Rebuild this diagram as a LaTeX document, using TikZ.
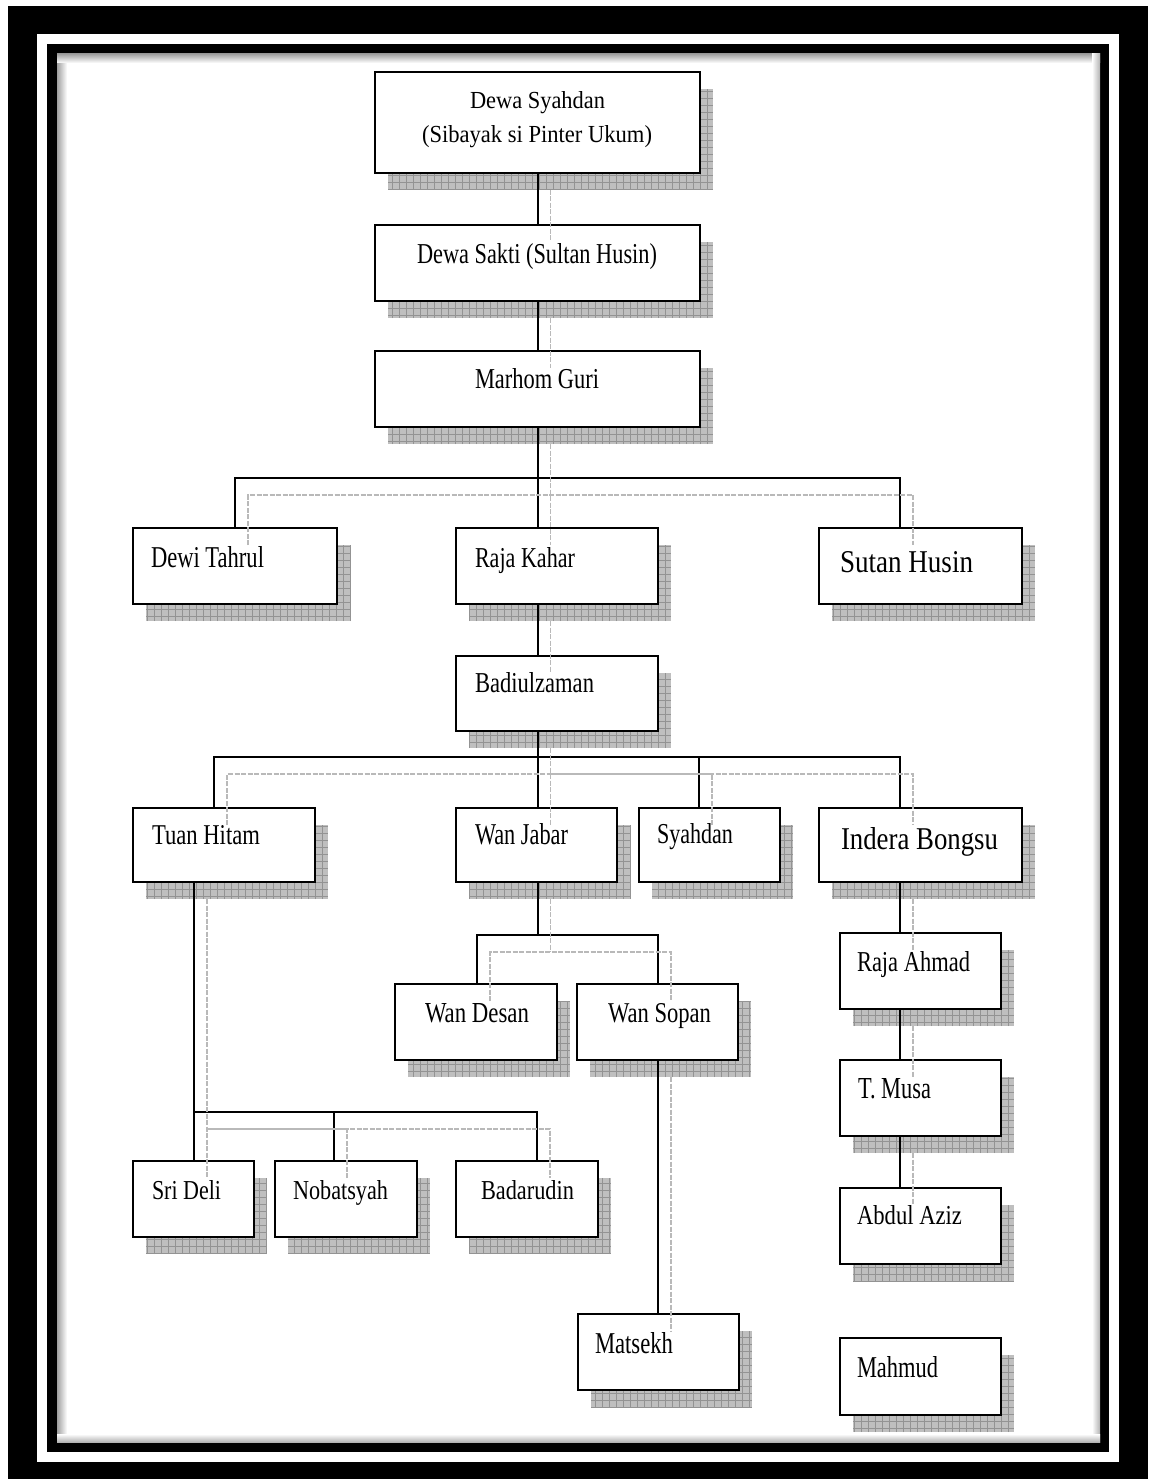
\documentclass[tikz,border=0pt]{standalone}
\usepackage{fontspec}
\setmainfont{Liberation Serif}
\usepackage{graphicx}
\usetikzlibrary{calc}
\pgfdeclarelayer{bglayer}
\pgfdeclarelayer{shadlayer}
\pgfdeclarelayer{fglayer}
\pgfsetlayers{bglayer,shadlayer,main,fglayer}
\newcommand\fitx[3]{\resizebox{#1pt}{#2pt}{#3}}
\tikzset{
  box/.style={rectangle, draw=black, line width=2pt, fill=white, inner sep=0pt, outer sep=0pt},
  txt/.style={inner sep=0pt, outer sep=0pt, anchor=base west, text=black},
  conn/.style={draw=black, line width=2pt},
  sconn/.style={draw=gray!55, line width=1.6pt, dash pattern=on 5pt off 1.5pt},
  shadfill/.style={fill=gray!50},
  shadgrid/.style={draw=gray!85, line width=0.6pt},
}
\newcommand\mkbox[5]{\node[box, anchor=north west, minimum width={(#4-#2)*1pt}, minimum height={(#5-#3)*1pt}] (#1) at (#2,#3) {};}
\newcommand\dropgrid[1]{%
  \fill[shadfill] ([shift={(13,17)}]#1.north west) rectangle ([shift={(13,17)}]#1.south east);
  \draw[shadgrid, step=7pt] ([shift={(13,17)}]#1.north west) grid ([shift={(13,17)}]#1.south east);}
\begin{document}
\begin{tikzpicture}[x=1pt, y=-1pt]
\useasboundingbox (0,0) rectangle (1148,1479);
% frame
\begin{pgfonlayer}{bglayer}
  \fill[white] (0,0) rectangle (1148,1479);
  \fill[black] (8,6) rectangle (1148,1479);
  \fill[white] (37,34) rectangle (1119,1462);
  \fill[black] (47,44) rectangle (1109,1452);
  \fill[white] (57,54) rectangle (1100,1442);
  \shade[left color=gray!75, right color=white] (57,54) rectangle (67,1442);
  \shade[top color=gray!75, bottom color=white] (57,54) rectangle (1100,63);
  \shade[left color=white, right color=gray!60] (1092,54) rectangle (1100,1442);
  \shade[top color=white, bottom color=gray!60] (57,1434) rectangle (1100,1442);
\end{pgfonlayer}
% boxes
\mkbox{ds}{375}{72}{700}{173}
\mkbox{dk}{375}{225}{700}{301}
\mkbox{mg}{375}{351}{700}{427}
\mkbox{dt}{133}{528}{337}{604}
\mkbox{rk}{456}{528}{658}{604}
\mkbox{sh}{819}{528}{1022}{604}
\mkbox{bz}{456}{656}{658}{731}
\mkbox{th}{133}{808}{315}{882}
\mkbox{wj}{456}{808}{617}{882}
\mkbox{sy}{639}{808}{780}{882}
\mkbox{ib}{819}{808}{1022}{882}
\mkbox{ra}{840}{933}{1001}{1009}
\mkbox{wd}{395}{984}{557}{1060}
\mkbox{wn}{577}{984}{738}{1060}
\mkbox{tm}{840}{1060}{1001}{1136}
\mkbox{sd}{133}{1161}{254}{1237}
\mkbox{nb}{275}{1161}{417}{1237}
\mkbox{bd}{456}{1161}{598}{1237}
\mkbox{aa}{840}{1188}{1001}{1264}
\mkbox{mt}{578}{1314}{739}{1390}
\mkbox{mh}{840}{1338}{1001}{1415}
% shadows
\begin{pgfonlayer}{shadlayer}
  \foreach \n in {ds,dk,mg,dt,rk,sh,bz,th,wj,sy,ib,ra,wd,wn,tm,sd,nb,bd,aa,mt,mh}{\dropgrid{\n}}
\end{pgfonlayer}
% texts
\node[txt] (tds1) at (470,109) {\fitx{135}{17}{Dewa Syahdan}};
\node[txt] (tds2) at (422,143) {\fitx{230}{17}{(Sibayak si Pinter Ukum)}};
\node[txt] (tdk) at (417,263) {\fitx{240}{20}{Dewa Sakti (Sultan Husin)}};
\node[txt] (tmg) at (475,388) {\fitx{124}{20}{Marhom Guri}};
\node[txt] (tdt) at (151,567) {\fitx{113}{21}{Dewi Tahrul}};
\node[txt] (trk) at (475,567) {\fitx{100}{20}{Raja Kahar}};
\node[txt] (tsh) at (840,572) {\fitx{133}{21}{Sutan Husin}};
\node[txt] (tbz) at (475,692) {\fitx{119}{20}{Badiulzaman}};
\node[txt] (tth) at (152,844) {\fitx{108}{19}{Tuan Hitam}};
\node[txt] (twj) at (475,844) {\fitx{93}{21}{Wan Jabar}};
\node[txt] (tsy) at (657,843) {\fitx{76}{20}{Syahdan}};
\node[txt] (tib) at (841,849) {\fitx{157}{22}{Indera Bongsu}};
\node[txt] (tra) at (857,971) {\fitx{113}{20}{Raja Ahmad}};
\node[txt] (twd) at (425,1022) {\fitx{104}{19}{Wan Desan}};
\node[txt] (twn) at (608,1022) {\fitx{103}{19}{Wan Sopan}};
\node[txt] (ttm) at (858,1098) {\fitx{73}{20}{T. Musa}};
\node[txt] (tsd) at (152,1199) {\fitx{69}{19}{Sri Deli}};
\node[txt] (tnb) at (293,1199) {\fitx{95}{19}{Nobatsyah}};
\node[txt] (tbd) at (481,1199) {\fitx{93}{19}{Badarudin}};
\node[txt] (taa) at (857,1224) {\fitx{105}{19}{Abdul Aziz}};
\node[txt] (tmt) at (595,1353) {\fitx{78}{21}{Matsekh}};
\node[txt] (tmh) at (857,1377) {\fitx{81}{21}{Mahmud}};
% bus points
\coordinate (b1) at (537.5,478);
\coordinate (b2) at (537.5,757);
\coordinate (b3) at (537.5,935);
\coordinate (b4) at (194,1112);
% black connectors
\draw[conn] (ds.south) -- (dk.north);
\draw[conn] (dk.south) -- (mg.north);
\draw[conn] (mg.south) -- (mg.south |- rk.north);
\draw[conn] (dt.north) |- (b1) -| ([xshift=81pt]sh.north west);
\draw[conn] ([xshift=81.5pt]rk.south west) -- ([xshift=81.5pt]bz.north west);
\draw[conn] ([xshift=81.5pt]bz.south west) -- ([xshift=81.5pt]wj.north west);
\draw[conn] ([xshift=81pt]th.north west) |- (b2) -| ([xshift=81pt]ib.north west);
\draw[conn] ([xshift=60pt]sy.north west) |- (b2);
\draw[conn] ([xshift=81.5pt]wj.south west) -- (b3);
\draw[conn] ([xshift=82pt]wd.north west) |- (b3) -| ([xshift=81pt]wn.north west);
\draw[conn] ([xshift=81pt]wn.south west) -- ([xshift=80pt]mt.north west);
\draw[conn] ([xshift=61pt]th.south west) -- ([xshift=61pt]sd.north west);
\draw[conn] (b4) -| ([xshift=81pt]bd.north west);
\draw[conn] ([xshift=59pt]nb.north west) |- (b4);
\draw[conn] ([xshift=81pt]ib.south west) -- ([xshift=60pt]ra.north west);
\draw[conn] ([xshift=60pt]ra.south west) -- ([xshift=60pt]tm.north west);
\draw[conn] ([xshift=60pt]tm.south west) -- ([xshift=60pt]aa.north west);
% grey shadow connectors
\begin{pgfonlayer}{fglayer}
\draw[sconn] ([shift={(13,17)}]ds.south) -- ([shift={(13,17)}]dk.north);
\draw[sconn] ([shift={(13,17)}]dk.south) -- ([shift={(13,17)}]mg.north);
\draw[sconn] ([shift={(13,17)}]mg.south) -- ([shift={(13,17)}]mg.south |- rk.north);
\draw[sconn] ([shift={(13,17)}]dt.north) |- ([shift={(13,17)}]b1) -| ([shift={(13,17)},xshift=81pt]sh.north west);
\draw[sconn] ([shift={(13,17)},xshift=81.5pt]rk.south west) -- ([shift={(13,17)},xshift=81.5pt]bz.north west);
\draw[sconn] ([shift={(13,17)},xshift=81.5pt]bz.south west) -- ([shift={(13,17)},xshift=81.5pt]wj.north west);
\draw[sconn] ([shift={(13,17)},xshift=81pt]th.north west) |- ([shift={(13,17)}]b2) -| ([shift={(13,17)},xshift=81pt]ib.north west);
\draw[sconn] ([shift={(13,17)},xshift=60pt]sy.north west) |- ([shift={(13,17)}]b2);
\draw[sconn] ([shift={(13,17)},xshift=81.5pt]wj.south west) -- ([shift={(13,17)}]b3);
\draw[sconn] ([shift={(13,17)},xshift=82pt]wd.north west) |- ([shift={(13,17)}]b3) -| ([shift={(13,17)},xshift=81pt]wn.north west);
\draw[sconn] ([shift={(13,17)},xshift=81pt]wn.south west) -- ([shift={(13,17)},xshift=80pt]mt.north west);
\draw[sconn] ([shift={(13,17)},xshift=61pt]th.south west) -- ([shift={(13,17)},xshift=61pt]sd.north west);
\draw[sconn] ([shift={(13,17)}]b4) -| ([shift={(13,17)},xshift=81pt]bd.north west);
\draw[sconn] ([shift={(13,17)},xshift=59pt]nb.north west) |- ([shift={(13,17)}]b4);
\draw[sconn] ([shift={(13,17)},xshift=81pt]ib.south west) -- ([shift={(13,17)},xshift=60pt]ra.north west);
\draw[sconn] ([shift={(13,17)},xshift=60pt]ra.south west) -- ([shift={(13,17)},xshift=60pt]tm.north west);
\draw[sconn] ([shift={(13,17)},xshift=60pt]tm.south west) -- ([shift={(13,17)},xshift=60pt]aa.north west);
\end{pgfonlayer}
\end{tikzpicture}
\end{document}
